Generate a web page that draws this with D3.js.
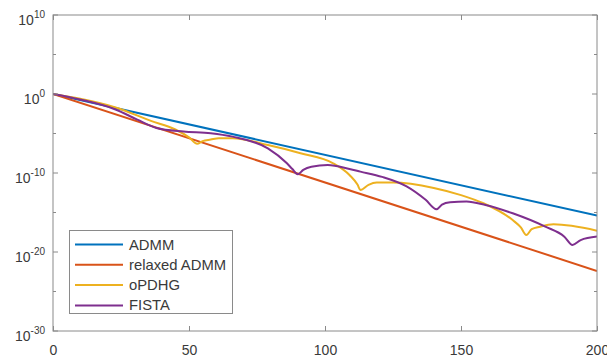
<!DOCTYPE html>
<html>
<head>
<meta charset="utf-8">
<script src="https://cdn.jsdelivr.net/npm/d3@7"></script>
<style>
  body { margin: 0; background: #fff; }
  svg { font-family: "Liberation Sans", Arial, sans-serif; }
</style>
</head>
<body>
<div id="chart"></div>
<script>
// values (iteration, error)
const admmIter = [0, 200];
const admmVals = [1, 4.0e-16];

const relaxedIter = [0, 200];
const relaxedVals = [1, 4.0e-23];

const opdhgIter = [0, 10, 23, 36, 45, 50, 53, 55, 58, 61, 66, 79, 91, 103, 109, 112, 113, 116, 119, 125, 140, 150, 158, 169, 172, 174, 176, 179, 184, 200];
const opdhgVals = [1, 2.5e-1, 2.0e-2, 4.0e-4, 3.2e-5, 3.2e-6, 5.0e-7, 1.1e-6, 1.7e-6, 2.5e-6, 2.5e-6, 3.5e-7, 3.2e-8, 1.7e-9, 5.6e-11, 3.2e-12, 7.1e-13, 3.2e-12, 6.3e-12, 6.3e-12, 1.3e-12, 1.6e-13, 1.6e-14, 1.1e-16, 1.3e-17, 1.4e-18, 7.9e-18, 1.6e-17, 3.2e-17, 5.0e-18];

const fistaIter = [0, 10, 23, 31, 38, 48, 58, 66, 79, 86, 88, 90, 92, 95, 101, 109, 113, 121, 130, 137, 141, 143, 146, 152, 159, 169, 181, 188, 191, 194, 200];
const fistaVals = [1, 2.0e-1, 1.1e-2, 5.6e-4, 5.0e-5, 1.8e-5, 1.1e-5, 4.0e-6, 1.3e-7, 1.7e-9, 3.2e-10, 7.1e-11, 2.5e-10, 6.3e-10, 1e-9, 3.2e-10, 1.5e-10, 3.2e-11, 2.0e-12, 4.0e-14, 2.5e-15, 1e-14, 2.0e-14, 2.5e-14, 8.9e-15, 7.9e-16, 1.6e-17, 8.7e-19, 7.9e-20, 3.2e-19, 8.9e-19];

const seriesNames = ['ADMM', 'relaxed ADMM', 'oPDHG', 'FISTA'];
const xTicks = [0, 50, 100, 150, 200];
const yMajorExp = [10, 0, -10, -20, -30];
const yMinorExp = [5, -5, -15, -25];

const colors = ['#0072BD', '#D95319', '#EDB120', '#7E2F8E'];

const W = 607, H = 361;
const plotL = 53, plotR = 597, plotT = 15, plotB = 331;
const axisColor = '#8a8a8a';
const textColor = '#3a3a3a';

const svg = d3.select('#chart')
  .append('svg')
  .attr('width', W)
  .attr('height', H);

const xScale = d3.scaleLinear().domain([0, 200]).range([plotL, plotR]);
const yScale = d3.scaleLog().domain([1e-30, 1e10]).range([plotB, plotT]);

svg.append('defs').append('clipPath')
  .attr('id', 'clip')
  .append('rect')
  .attr('x', plotL).attr('y', plotT)
  .attr('width', plotR - plotL).attr('height', plotB - plotT);

// lines
const series = [
  { it: admmIter, v: admmVals },
  { it: relaxedIter, v: relaxedVals },
  { it: opdhgIter, v: opdhgVals },
  { it: fistaIter, v: fistaVals }
];

const line = d3.line()
  .x(d => xScale(d[0]))
  .y(d => yScale(d[1]))
  .curve(d3.curveMonotoneX);

const lineGroup = svg.append('g').attr('clip-path', 'url(#clip)');
series.forEach((s, i) => {
  lineGroup.append('path')
    .attr('d', line(s.it.map((x, j) => [x, s.v[j]])))
    .style('fill', 'none')
    .style('stroke', colors[i])
    .style('stroke-width', '2px')
    .style('stroke-linejoin', 'round');
});

// box
svg.append('rect')
  .attr('x', plotL).attr('y', plotT)
  .attr('width', plotR - plotL).attr('height', plotB - plotT)
  .style('fill', 'none')
  .style('stroke', axisColor)
  .style('stroke-width', 1);

// x ticks (inward, bottom and top)
const xAxisB = d3.axisBottom(xScale).tickValues(xTicks).tickSizeInner(-5).tickSizeOuter(0).tickPadding(14);
const gx = svg.append('g').attr('transform', 'translate(0,' + plotB + ')').call(xAxisB);
gx.select('.domain').remove();
gx.selectAll('line').attr('stroke', axisColor);
gx.selectAll('text')
  .style('font-size', '14px')
  .style('fill', textColor);

const xAxisT = d3.axisTop(xScale).tickValues(xTicks).tickSizeInner(-5).tickSizeOuter(0).tickFormat('');
const gxt = svg.append('g').attr('transform', 'translate(0,' + plotT + ')').call(xAxisT);
gxt.select('.domain').remove();
gxt.selectAll('line').attr('stroke', axisColor);

// y ticks (left and right)
const yMajor = yMajorExp.map(e => Math.pow(10, e));
const yMinor = yMinorExp.map(e => Math.pow(10, e));

[[plotL, 1], [plotR, -1]].forEach(([x0, dir]) => {
  svg.append('g').selectAll('line')
    .data(yMajor).enter().append('line')
    .attr('x1', x0).attr('x2', x0 + dir * 5)
    .attr('y1', d => yScale(d)).attr('y2', d => yScale(d))
    .attr('stroke', axisColor);
  svg.append('g').selectAll('line')
    .data(yMinor).enter().append('line')
    .attr('x1', x0).attr('x2', x0 + dir * 3)
    .attr('y1', d => yScale(d)).attr('y2', d => yScale(d))
    .attr('stroke', axisColor);
});

const yLabels = svg.append('g').selectAll('text')
  .data(yMajorExp).enter().append('text')
  .attr('x', 45)
  .attr('y', d => yScale(Math.pow(10, d)) + 10)
  .attr('text-anchor', 'end')
  .style('font-size', '14px')
  .style('fill', textColor);
yLabels.append('tspan').text('10');
yLabels.append('tspan')
  .attr('dy', -7)
  .style('font-size', '10px')
  .text(d => d);

// legend
const legend = svg.append('g');
legend.append('rect')
  .attr('x', 69.5).attr('y', 230.5)
  .attr('width', 163).attr('height', 83)
  .style('fill', '#fff')
  .style('stroke', axisColor);

seriesNames.forEach((name, i) => {
  const y = 244.5 + i * 20.3;
  legend.append('line')
    .attr('x1', 75).attr('x2', 123)
    .attr('y1', y).attr('y2', y)
    .style('stroke', colors[i])
    .style('stroke-width', '2px');
  legend.append('text')
    .attr('x', 129)
    .attr('y', y + 5)
    .style('font-size', '14.8px')
    .style('fill', textColor)
    .text(name);
});
</script>
</body>
</html>
